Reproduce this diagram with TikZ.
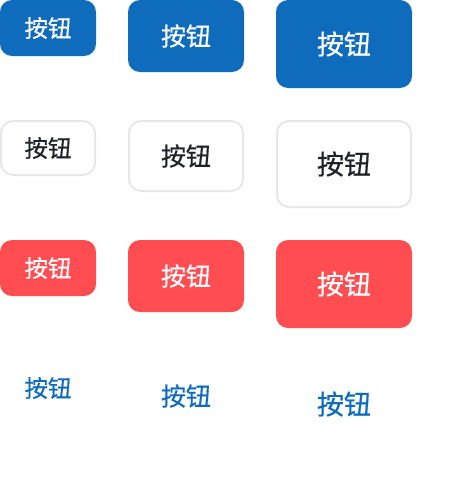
\documentclass[tikz,border=0pt]{standalone}
\usepackage{fontspec}
\newfontfamily\cjk[FakeBold=0.6]{Noto Sans CJK SC}
\definecolor{brand}{HTML}{0F6CBD}
\definecolor{danger}{HTML}{FF4D52}
\definecolor{edge}{HTML}{E5E7EB}
\definecolor{ink}{HTML}{1F2329}
\tikzset{
  x=1pt,y=-1pt,
  btn/.style={rounded corners=12pt, inner sep=0pt, outer sep=0pt, font=\cjk},
  sm/.style={minimum width=96pt, minimum height=56pt, font=\cjk\fontsize{23.5}{23.5}\selectfont},
  md/.style={minimum width=116pt, minimum height=72pt, font=\cjk\fontsize{25}{25}\selectfont},
  lg/.style={minimum width=136pt, minimum height=88pt, font=\cjk\fontsize{27}{27}\selectfont},
  primary/.style={btn, fill=brand, text=white},
  outline/.style={btn, fill=white, draw=edge, line width=2pt, text=ink},
  red/.style={btn, fill=danger, text=white},
  link/.style={btn, text=brand},
}
\begin{document}
\begin{tikzpicture}
\useasboundingbox (0,0) rectangle (452,488);
% row 1
\node[primary, sm] (p1) at (48,28) {按钮};
\node[primary, md] (p2) at (186,36) {按钮};
\node[primary, lg] (p3) at (344,44) {按钮};
% row 2
\node[outline, sm, minimum width=94pt, minimum height=54pt] (o1) at (48,148) {按钮};
\node[outline, md, minimum width=114pt, minimum height=70pt] (o2) at (186,156) {按钮};
\node[outline, lg, minimum width=134pt, minimum height=86pt] (o3) at (344,164) {按钮};
% row 3
\node[red, sm] (r1) at (48,268) {按钮};
\node[red, md] (r2) at (186,276) {按钮};
\node[red, lg] (r3) at (344,284) {按钮};
% row 4
\node[link, sm] (l1) at (48,388) {按钮};
\node[link, md] (l2) at (186,396) {按钮};
\node[link, lg] (l3) at (344,404) {按钮};
\end{tikzpicture}
\end{document}
